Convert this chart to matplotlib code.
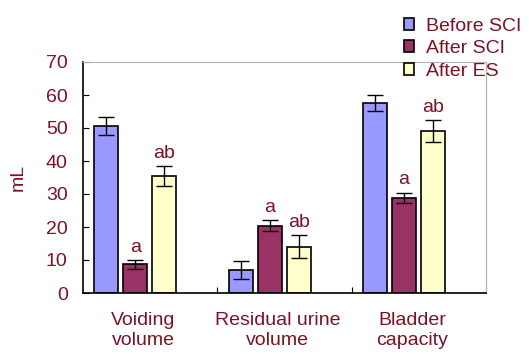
import matplotlib
matplotlib.use("Agg")
import matplotlib.pyplot as plt
import numpy as np

plt.rcParams['font.family'] = ['Liberation Sans', 'DejaVu Sans']

categories = ["Voiding\nvolume", "Residual urine\nvolume", "Bladder\ncapacity"]
series = ["Before SCI", "After SCI", "After ES"]
before = [50.5, 6.9, 57.6]
before_err = [2.7, 2.7, 2.5]
after_sci = [8.7, 20.4, 28.8]
after_sci_err = [1.3, 1.6, 1.6]
after_es = [35.5, 14.0, 49.0]
after_es_err = [3.0, 3.5, 3.3]
labels_sci = ["a", "a", "a"]
labels_es = ["ab", "ab", "ab"]

colors = ["#9999FF", "#993366", "#FFFFCC"]
tc = "#7a1424"
fs = 14

fig = plt.figure(figsize=(5.29, 3.54), dpi=100)
ax = fig.add_axes([83/529, 1-293/354, 403/529, 231/354])

x = np.arange(len(categories))
w = 0.179
step = 0.216
shift = -0.11
data = [(before, before_err), (after_sci, after_sci_err), (after_es, after_es_err)]
for k, (vals, errs) in enumerate(data):
    pos = x + shift + (k - 1) * step
    ax.bar(pos, vals, w, color=colors[k], edgecolor="black", linewidth=1.2,
           label=series[k], yerr=errs, capsize=5.5,
           error_kw=dict(elinewidth=1, capthick=1, ecolor="black"), zorder=2)
    if k == 1:
        for p, v, e, t in zip(pos, vals, errs, labels_sci):
            ax.text(p, v + e + 1.3, t, ha="center", va="bottom", color=tc, fontsize=fs)
    if k == 2:
        for p, v, e, t in zip(pos, vals, errs, labels_es):
            ax.text(p, v + e + 1.3, t, ha="center", va="bottom", color=tc, fontsize=fs)

ax.set_xlim(-0.5, 2.5)
ax.set_ylim(0, 70)
ax.set_yticks(range(0, 71, 10))
ax.tick_params(axis='y', direction='in', length=4, colors='black', labelcolor=tc,
               labelsize=fs, pad=11)
ax.set_xticks([0.5, 1.5, 2.5])
ax.set_xticks(x - 0.05, minor=True)
ax.set_xticklabels([])
ax.set_xticklabels(categories, minor=True)
ax.tick_params(axis='x', which='major', direction='in', length=4)
ax.tick_params(axis='x', which='minor', length=0, labelcolor=tc, labelsize=fs, pad=14)
for lab in ax.get_xticklabels(minor=True):
    lab.set_linespacing(1.2)
ax.set_ylabel("mL", color=tc, fontsize=fs, labelpad=14)

ax.spines['left'].set_linewidth(1.2)
ax.spines['bottom'].set_linewidth(1.2)
ax.spines['top'].set_color('#b0b0b0')
ax.spines['right'].set_color('#b0b0b0')

leg = fig.legend(loc="upper left", bbox_to_anchor=(394/529, 1-8/354), frameon=False,
                 fontsize=fs, handlelength=0.55, handleheight=0.55, handletextpad=0.6,
                 labelspacing=0.28, borderpad=0)
for t in leg.get_texts():
    t.set_color(tc)

fig.savefig("out.png", dpi=100)
